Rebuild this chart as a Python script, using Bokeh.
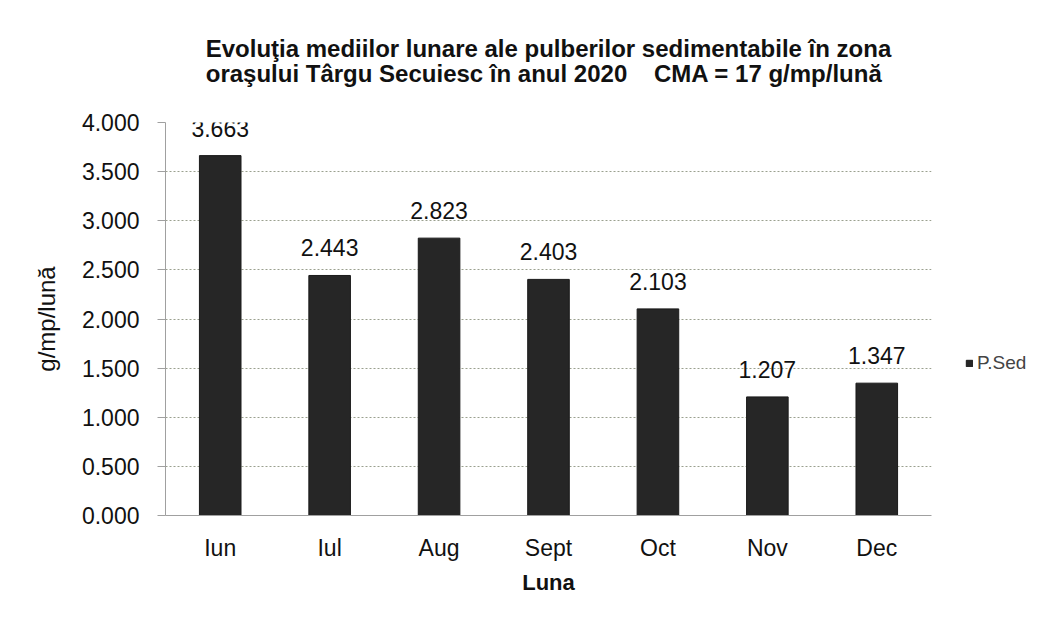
from bokeh.plotting import figure
from bokeh.models import FactorRange, Range1d, NumeralTickFormatter, ColumnDataSource, Legend, LegendItem
from bokeh.embed import file_html
from bokeh.resources import INLINE
from bokeh.core.properties import value

months = ["Iun", "Iul", "Aug", "Sept", "Oct", "Nov", "Dec"]
p_sed = [3.663, 2.443, 2.823, 2.403, 2.103, 1.207, 1.347]
y_ticks = [0.0, 0.5, 1.0, 1.5, 2.0, 2.5, 3.0, 3.5, 4.0]
title_lines = ["Evoluţia mediilor lunare ale pulberilor sedimentabile în zona",
               "oraşului Târgu Secuiesc în anul 2020\u00a0\u00a0\u00a0\u00a0CMA = 17 g/mp/lună"]
series_name = "P.Sed"
x_label = "Luna"
y_label = "g/mp/lună"

FONT = "Liberation Sans"

src = ColumnDataSource(dict(m=months, v=p_sed, lbl=[f"{v:.3f}" for v in p_sed]))

p = figure(x_range=FactorRange(*months, range_padding=0), y_range=Range1d(0, 4),
           frame_width=766, frame_height=393, output_backend="svg", toolbar_location=None,
           min_border_left=165, min_border_right=103, min_border_top=122, min_border_bottom=91,
           background_fill_color="white", border_fill_color="white")
p.outline_line_color = None
p.styles = {"outline": "1px dotted #b5bfa5", "outline-offset": "-2px"}

p.title.text = "\n".join(title_lines)
p.title.align = "center"
p.title.vertical_align = "top"
p.title.text_font = FONT
p.title.text_font_size = "24px"
p.title.text_font_style = "bold"
p.title.text_color = "#111111"
p.title.text_line_height = 0.95
p.title.standoff = 66

bars = p.vbar(x="m", top="v", width=0.38, source=src, fill_color="#262626", line_color="#1a1a1a")

p.text(x="m", y="v", text="lbl", source=src, text_align="center", text_baseline="bottom",
       y_offset=-19, text_font=value(FONT), text_font_size="23px", text_color="#111111")

# axes
p.yaxis.ticker = y_ticks
p.yaxis.formatter = NumeralTickFormatter(format="0.000")
p.yaxis.major_label_text_font = FONT
p.yaxis.major_label_text_font_size = "23px"
p.yaxis.major_label_text_color = "#111111"
p.yaxis.major_tick_out = 8
p.yaxis.major_tick_in = 0
p.yaxis.minor_tick_line_color = None
p.yaxis.major_tick_line_color = "#a0a0a0"
p.yaxis.axis_line_color = "#a0a0a0"
p.yaxis.major_label_standoff = 18
p.yaxis.axis_label = y_label
p.yaxis.axis_label_text_font = FONT
p.yaxis.axis_label_text_font_size = "24px"
p.yaxis.axis_label_text_font_style = "normal"
p.yaxis.axis_label_text_color = "#111111"
p.yaxis.axis_label_standoff = 19

p.xaxis.major_label_text_font = FONT
p.xaxis.major_label_text_font_size = "23px"
p.xaxis.major_label_text_color = "#111111"
p.xaxis.major_tick_line_color = None
p.xaxis.axis_line_color = "#a0a0a0"
p.xaxis.major_label_standoff = 13
p.xaxis.axis_label = x_label
p.xaxis.axis_label_text_font = FONT
p.xaxis.axis_label_text_font_size = "22px"
p.xaxis.axis_label_text_font_style = "bold"
p.xaxis.axis_label_text_color = "#111111"
p.xaxis.axis_label_standoff = 6

p.xgrid.grid_line_color = None
p.ygrid.grid_line_color = "#9aa08f"
p.ygrid.grid_line_dash = "2 2"
p.ygrid.grid_line_width = 1

legend = Legend(items=[LegendItem(label=series_name, renderers=[bars])],
                location=(34, 141), orientation="vertical",
                glyph_width=8, glyph_height=8, padding=0, margin=0, spacing=0,
                label_text_font=FONT, label_text_font_size="19px", label_standoff=4,
                border_line_color=None, background_fill_alpha=0)
p.add_layout(legend, "right")

open("out.html", "w").write(file_html(p, INLINE))
